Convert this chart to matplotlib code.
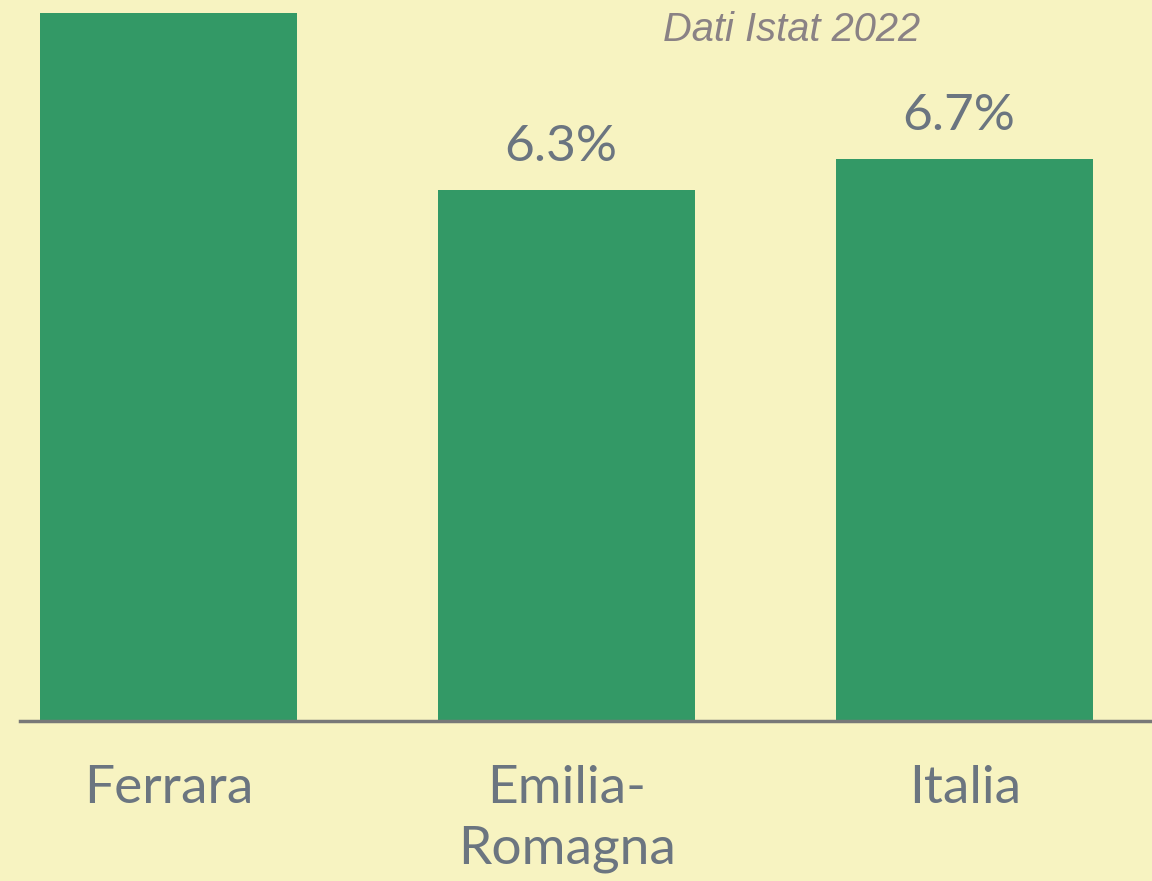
import matplotlib.pyplot as plt
import numpy as np

# data
categories = ['Ferrara', 'Emilia-\nRomagna', 'Italia']
values = [8.4, 6.3, 6.67]
labels = ['', '6.3%', '6.7%']

bg = '#f7f3c1'
green = '#339966'
grey = '#6b7580'

fig = plt.figure(figsize=(11.52, 8.81), dpi=100, facecolor=bg)
ax = fig.add_axes([20 / 1152, 1 - 721 / 881, 1 - 20 / 1152, 721 / 881])
ax.set_facecolor(bg)

x = np.arange(len(categories))
bars = ax.bar(x, values, width=0.645, color=green)
for b, lab in zip(bars, labels):
    if lab:
        # labels sit a touch left of the bar centre in the original
        ax.text(b.get_x() + b.get_width() / 2 - 0.015, b.get_height() + 0.23, lab,
                ha='center', va='bottom', fontsize=37, color=grey, family='Lato')

ax.set_xlim(-0.373, 2.47)
ax.set_ylim(0, 8.55)
ax.set_xticks(x)
ax.set_xticklabels(categories, fontsize=38.3, color=grey, family='Lato', linespacing=1.34)
ax.tick_params(axis='x', length=0, pad=32)
ax.set_yticks([])
for s in ['top', 'right', 'left']:
    ax.spines[s].set_visible(False)
ax.spines['bottom'].set_color('#787878')
ax.spines['bottom'].set_linewidth(2.5)

fig.text(792 / 1152, 1 - 30 / 881, 'Dati Istat 2022', ha='center', va='center',
         fontsize=28.7, style='italic', color='#8a8285', family='Liberation Sans')

fig.savefig('out.png', dpi=100, facecolor=bg)
